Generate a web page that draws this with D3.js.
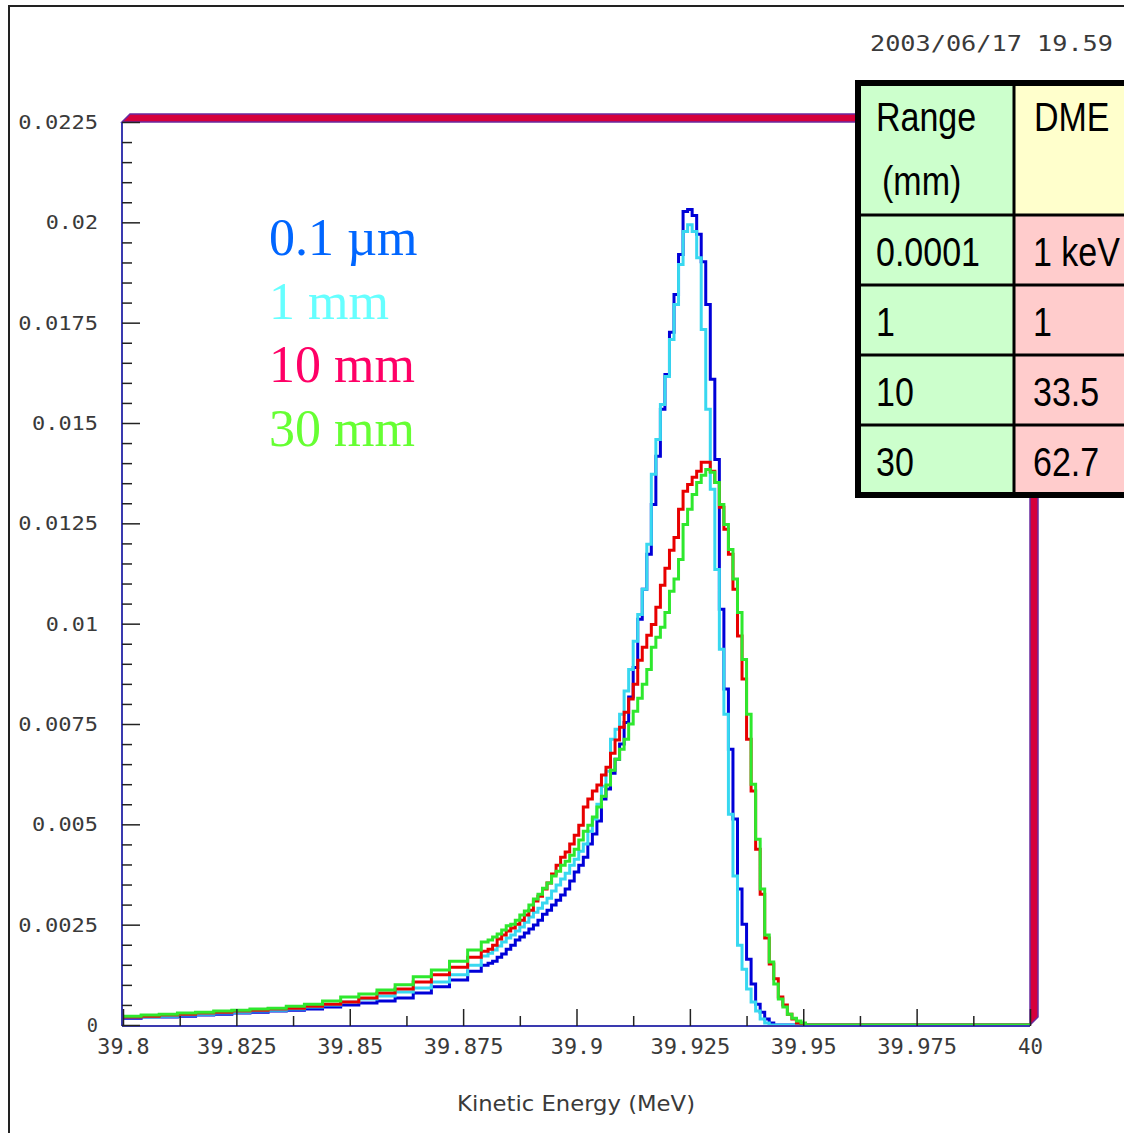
<!DOCTYPE html>
<html><head><meta charset="utf-8">
<script src="https://cdn.jsdelivr.net/npm/d3@7"></script>
<style>body{margin:0;background:#fff;} svg{display:block;}</style>
</head><body><svg id="chart" width="1124" height="1133"></svg>
<script>
// ---------------- DATA ----------------
// histogram bin centres (MeV): coarse bins in the low tail, fine bins around the peak
const binCenter = [
  39.802,39.806,39.810,39.814,39.818,39.822,39.826,39.830,39.834,39.838,
  39.842,39.846,39.850,39.854,39.858,39.862,39.866,39.870,39.874,39.878,
  39.880,39.881,39.882,39.883,39.884,39.885,39.886,39.887,39.888,39.889,
  39.890,39.891,39.892,39.893,39.894,39.895,39.896,39.897,39.898,39.899,
  39.900,39.901,39.902,39.903,39.904,39.905,39.906,39.907,39.908,39.909,
  39.910,39.911,39.912,39.913,39.914,39.915,39.916,39.917,39.918,39.919,
  39.920,39.921,39.922,39.923,39.924,39.925,39.926,39.927,39.928,39.929,
  39.930,39.931,39.932,39.933,39.934,39.935,39.936,39.937,39.938,39.939,
  39.940,39.941,39.942,39.943,39.944,39.945,39.946,39.947,39.948,39.949,
  39.950,39.951
];
const xStart = 39.8;
const xEnd = 40.0;

const blue01um = [
  0.00017,0.00020,0.00020,0.00022,0.00025,0.00027,0.00030,0.00032,0.00035,0.00037,
  0.00040,0.00045,0.00050,0.00055,0.00060,0.00067,0.00080,0.00095,0.00112,0.00134,
  0.00149,0.00154,0.00159,0.00169,0.00177,0.00189,0.00199,0.00212,0.00219,0.00229,
  0.00239,0.00249,0.00261,0.00276,0.00286,0.00299,0.00311,0.00324,0.00339,0.00359,
  0.00381,0.00398,0.00418,0.00451,0.00476,0.00508,0.00563,0.00588,0.00627,0.00662,
  0.00700,0.00754,0.00817,0.00891,0.01011,0.01086,0.01173,0.01297,0.01417,0.01534,
  0.01621,0.01726,0.01820,0.01920,0.02027,0.02032,0.02017,0.01970,0.01902,0.01795,
  0.01609,0.01409,0.01036,0.00837,0.00687,0.00513,0.00339,0.00251,0.00164,0.00102,
  0.00052,0.00032,0.00015,0.00005,0,0,0,0,0,0,
  0,0
];
const cyan1mm = [
  0.00020,0.00020,0.00022,0.00025,0.00027,0.00030,0.00032,0.00035,0.00037,0.00040,
  0.00045,0.00050,0.00057,0.00065,0.00072,0.00082,0.00092,0.00107,0.00125,0.00149,
  0.00172,0.00179,0.00187,0.00197,0.00207,0.00217,0.00224,0.00234,0.00244,0.00256,
  0.00269,0.00281,0.00291,0.00304,0.00316,0.00334,0.00349,0.00364,0.00378,0.00398,
  0.00413,0.00433,0.00451,0.00483,0.00513,0.00550,0.00595,0.00632,0.00712,0.00737,
  0.00774,0.00832,0.00886,0.00956,0.01023,0.01086,0.01198,0.01372,0.01459,0.01546,
  0.01616,0.01708,0.01795,0.01895,0.01977,0.01994,0.01977,0.01912,0.01733,0.01534,
  0.01335,0.01135,0.00936,0.00774,0.00525,0.00371,0.00199,0.00139,0.00090,0.00057,
  0.00035,0.00015,0.00005,0,0,0,0,0,0,0,
  0,0
];
const red10mm = [
  0.00020,0.00022,0.00025,0.00027,0.00030,0.00032,0.00035,0.00037,0.00040,0.00042,
  0.00047,0.00052,0.00057,0.00067,0.00080,0.00090,0.00107,0.00125,0.00144,0.00169,
  0.00184,0.00189,0.00199,0.00214,0.00224,0.00234,0.00242,0.00251,0.00261,0.00274,
  0.00286,0.00309,0.00321,0.00339,0.00354,0.00376,0.00398,0.00418,0.00431,0.00451,
  0.00473,0.00498,0.00543,0.00563,0.00583,0.00598,0.00623,0.00642,0.00677,0.00710,
  0.00742,0.00779,0.00812,0.00849,0.00909,0.00941,0.00971,0.00998,0.01041,0.01096,
  0.01138,0.01183,0.01215,0.01285,0.01330,0.01347,0.01365,0.01380,0.01402,0.01402,
  0.01380,0.01352,0.01290,0.01235,0.01173,0.01086,0.00969,0.00862,0.00712,0.00583,
  0.00438,0.00326,0.00217,0.00152,0.00115,0.00070,0.00050,0.00027,0.00015,0.00005,
  0,0
];
const green30mm = [
  0.00022,0.00025,0.00027,0.00030,0.00032,0.00035,0.00037,0.00040,0.00042,0.00047,
  0.00052,0.00060,0.00070,0.00077,0.00087,0.00100,0.00120,0.00137,0.00159,0.00187,
  0.00207,0.00212,0.00219,0.00227,0.00237,0.00247,0.00251,0.00261,0.00274,0.00284,
  0.00299,0.00314,0.00326,0.00341,0.00354,0.00371,0.00383,0.00398,0.00408,0.00423,
  0.00438,0.00461,0.00483,0.00498,0.00518,0.00543,0.00570,0.00598,0.00635,0.00662,
  0.00687,0.00712,0.00750,0.00782,0.00814,0.00849,0.00886,0.00941,0.00966,0.00991,
  0.01028,0.01081,0.01111,0.01160,0.01247,0.01285,0.01322,0.01352,0.01370,0.01384,
  0.01377,0.01352,0.01297,0.01247,0.01185,0.01111,0.01028,0.00911,0.00774,0.00600,
  0.00463,0.00339,0.00224,0.00157,0.00102,0.00065,0.00045,0.00027,0.00017,0.00010,
  0.00005,0
];

const seriesNames  = ["0.1 \u00b5m", "1 mm", "10 mm", "30 mm"];
const seriesValues = [blue01um, cyan1mm, red10mm, green30mm];
const lineColors   = ["#0000d8", "#38d8f0", "#e80000", "#2ee82e"];
const legendColors = ["#0066ff", "#66ffff", "#ff0066", "#66ff33"];

const xTickValues = [39.8, 39.825, 39.85, 39.875, 39.9, 39.925, 39.95, 39.975, 40];
const xTickLabels = ["39.8","39.825","39.85","39.875","39.9","39.925","39.95","39.975","40"];
const xMinorValues = [39.8125, 39.8375, 39.8625, 39.8875, 39.9125, 39.9375, 39.9625, 39.9875];
const yTickValues = [0, 0.0025, 0.005, 0.0075, 0.01, 0.0125, 0.015, 0.0175, 0.02, 0.0225];
const yTickLabels = ["0","0.0025","0.005","0.0075","0.01","0.0125","0.015","0.0175","0.02","0.0225"];

const xTitle = "Kinetic Energy (MeV)";
const dateText = "2003/06/17  19.59";

const tableHeadRange = ["Range", "(mm)"];
const tableHeadDME = ["DME"];
const tableRange = ["0.0001", "1", "10", "30"];
const tableDME = ["1 keV", "1", "33.5", "62.7"];

// ---------------- DRAW ----------------
const svg = d3.select("#chart");
svg.append("rect").attr("width", 1124).attr("height", 1133).attr("fill", "#fff");

// outer frame
svg.append("path").attr("d", "M9,1140 V6 H1140")
  .attr("fill", "none").attr("stroke", "#222").attr("stroke-width", 2);

const x = d3.scaleLinear().domain([39.8, 40]).range([123, 1030]);
const y = d3.scaleLinear().domain([0, 0.0225]).range([1025, 122]);

const x0 = x.range()[0], x1 = x.range()[1], y0 = y.range()[0], y1 = y.range()[1];
const depth = 8;

svg.append("defs").append("clipPath").attr("id", "plotClip")
  .append("rect").attr("x", x0 - 1).attr("y", y1 - 20)
  .attr("width", x1 - x0 + 1).attr("height", y0 - y1 + 40);

// 3D frame walls (top & right)
const wall = svg.append("g");
wall.append("path")
  .attr("d", `M${x0-1},${y1} L${x0-1+depth},${y1-depth} L${x1+depth},${y1-depth} L${x1},${y1} Z`)
  .attr("fill", "#d6003c").attr("stroke", "#6a2aa0").attr("stroke-width", 1.5);
wall.append("path")
  .attr("d", `M${x1},${y1} L${x1+depth},${y1-depth} L${x1+depth},${y0-depth} L${x1},${y0} Z`)
  .attr("fill", "#d6003c").attr("stroke", "#6a2aa0").attr("stroke-width", 1.5);

// Curves (histograms, steps centred on bins)
const line = d3.line()
  .x(d => x(d[0]))
  .y(d => y(d[1]))
  .curve(d3.curveStep);

const curves = svg.append("g").attr("clip-path", "url(#plotClip)");
seriesValues.forEach((vals, i) => {
  const pts = binCenter.map((e, j) => [e, vals[j]]);
  pts.unshift([xStart - (binCenter[0] - xStart), vals[0]]);
  pts.push([xEnd, 0]);
  curves.append("path")
    .attr("d", line(pts))
    .attr("fill", "none")
    .attr("stroke", lineColors[i])
    .attr("stroke-width", 3)
    .attr("stroke-linejoin", "miter");
});

// axis lines
svg.append("line").attr("x1", x0-1).attr("x2", x0-1).attr("y1", y1).attr("y2", y0+1)
  .attr("stroke", "#3a3ab0").attr("stroke-width", 2);
svg.append("line").attr("x1", x0-1).attr("x2", x1).attr("y1", y0+1).attr("y2", y0+1)
  .attr("stroke", "#3a3ab0").attr("stroke-width", 2);

const tickFont = "'DejaVu Sans Mono', 'Liberation Mono', monospace";
const pitch = 13.7;
function fitMono(sel) {
  sel.each(function() {
    const n = this.textContent.length;
    d3.select(this).attr("textLength", pitch * n - 2.5).attr("lengthAdjust", "spacingAndGlyphs");
  });
}

// Y axis
const yAxis = d3.axisLeft(y).tickValues(yTickValues)
  .tickSize(-18).tickPadding(24)
  .tickFormat((d, i) => yTickLabels[i]);
const gy = svg.append("g").attr("transform", `translate(${x0-1},0)`).call(yAxis);
gy.select(".domain").remove();
gy.selectAll(".tick line").attr("stroke", "#222").attr("stroke-width", 1.5);
gy.selectAll(".tick text")
  .attr("font-family", tickFont).attr("font-size", 20)
  .attr("fill", "#3a3a3a").call(fitMono);

const yMinor = d3.range(0, 0.02251, 0.0005).filter(v => Math.abs(Math.round(v/0.0025)*0.0025 - v) > 1e-7);
const yAxisMinor = d3.axisLeft(y).tickValues(yMinor).tickSize(-10).tickFormat("");
const gym = svg.append("g").attr("transform", `translate(${x0-1},0)`).call(yAxisMinor);
gym.select(".domain").remove();
gym.selectAll(".tick line").attr("stroke", "#222").attr("stroke-width", 1.5);

// X axis
const xAxis = d3.axisBottom(x).tickValues(xTickValues)
  .tickSize(-17).tickPadding(13)
  .tickFormat((d, i) => xTickLabels[i]);
const gx = svg.append("g").attr("transform", `translate(0,${y0+1})`).call(xAxis);
gx.select(".domain").remove();
gx.selectAll(".tick line").attr("stroke", "#222").attr("stroke-width", 1.5);
gx.selectAll(".tick text")
  .attr("font-family", tickFont).attr("font-size", 21)
  .attr("fill", "#3a3a3a").call(fitMono);

const xAxisMinor = d3.axisBottom(x).tickValues(xMinorValues).tickSize(-10).tickFormat("");
const gxm = svg.append("g").attr("transform", `translate(0,${y0+1})`).call(xAxisMinor);
gxm.select(".domain").remove();
gxm.selectAll(".tick line").attr("stroke", "#222").attr("stroke-width", 1.5);

// X title
svg.append("text").attr("x", 576).attr("y", 1111)
  .attr("text-anchor", "middle")
  .attr("font-family", "'DejaVu Sans', 'Liberation Sans', sans-serif").attr("font-size", 21)
  .attr("textLength", 238).attr("lengthAdjust", "spacingAndGlyphs")
  .attr("fill", "#3a3a3a").text(xTitle);

// date
svg.append("text").attr("x", 870).attr("y", 51)
  .attr("font-family", tickFont).attr("font-size", 21)
  .attr("textLength", 243).attr("lengthAdjust", "spacingAndGlyphs")
  .attr("fill", "#3a3a3a").text(dateText);

// Legend (serif, colored)
const legend = svg.append("g")
  .attr("font-family", "'Liberation Serif', 'Times New Roman', serif")
  .attr("font-size", 52);
seriesNames.forEach((n, i) => {
  legend.append("text")
    .attr("x", 269).attr("y", 255 + i * 63.5)
    .attr("fill", legendColors[i]).text(n);
});

// Table
const T = { left: 858, mid: 1014, right: 1150, top: 83, head: 215, rowH: 70 };
const tb = svg.append("g");
const bottom = T.head + tableRange.length * T.rowH;
tb.append("rect").attr("x", T.left).attr("y", T.top).attr("width", T.mid - T.left).attr("height", bottom - T.top).attr("fill", "#ccffcc");
tb.append("rect").attr("x", T.mid).attr("y", T.top).attr("width", T.right - T.mid).attr("height", T.head - T.top).attr("fill", "#ffffcc");
tb.append("rect").attr("x", T.mid).attr("y", T.head).attr("width", T.right - T.mid).attr("height", bottom - T.head).attr("fill", "#ffcccc");
tableRange.forEach((r, i) => {
  const yy = T.head + i * T.rowH;
  tb.append("line").attr("x1", T.left).attr("x2", T.right).attr("y1", yy).attr("y2", yy)
    .attr("stroke", "#000").attr("stroke-width", 3);
});
tb.append("line").attr("x1", T.mid).attr("x2", T.mid).attr("y1", T.top).attr("y2", bottom)
  .attr("stroke", "#000").attr("stroke-width", 3);
tb.append("path").attr("d", `M${T.right},${T.top} H${T.left} V${bottom} H${T.right}`)
  .attr("fill", "none").attr("stroke", "#000").attr("stroke-width", 6);

function cellText(txt, tx, ty) {
  tb.append("text")
    .attr("transform", `translate(${tx},${ty}) scale(0.85,1)`)
    .attr("font-family", "'Liberation Sans', Arial, sans-serif")
    .attr("font-size", 40).attr("fill", "#000").text(txt);
}
cellText(tableHeadRange[0], 876, 131);
cellText(tableHeadRange[1], 882, 195);
cellText(tableHeadDME[0], 1034, 131);
tableRange.forEach((r, i) => {
  const by = 266 + i * T.rowH;
  cellText(r, 876, by);
  cellText(tableDME[i], 1033, by);
});
</script>
</body></html>
